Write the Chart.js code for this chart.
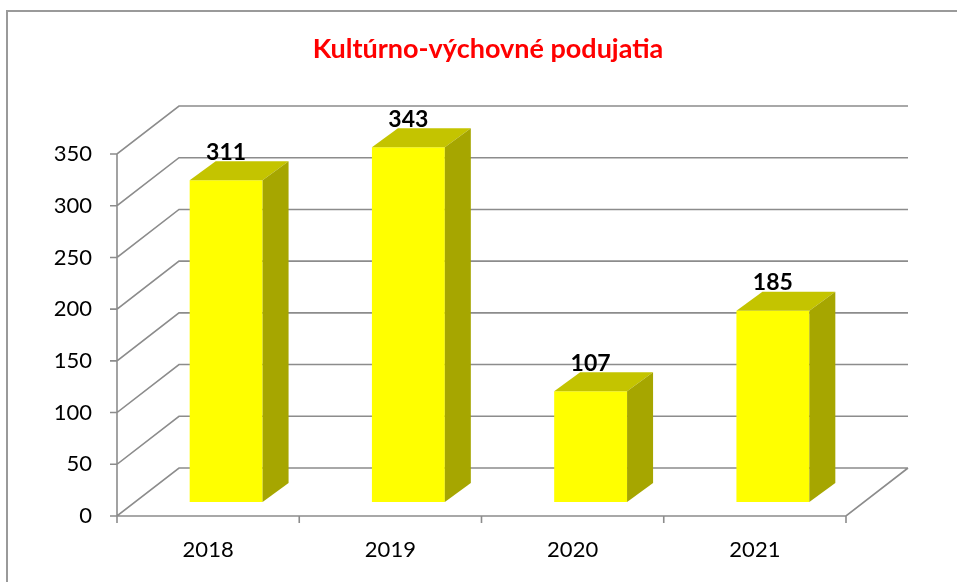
<!DOCTYPE html>
<html>
<head>
<meta charset="utf-8">
<script src="https://cdn.jsdelivr.net/npm/chart.js@4.4.0/dist/chart.umd.min.js"></script>
<style>
html, body { margin: 0; padding: 0; background: #fff; }
#wrap { position: relative; width: 957px; height: 582px; }
</style>
</head>
<body>
<div id="wrap"><canvas id="myChart" width="957" height="582"></canvas></div>
<script>
// data
var years = ['2018', '2019', '2020', '2021'];
var podujatia = [311, 343, 107, 185];
var yMin = 0;
var yMax = 350;
var yStep = 50;
var chartTitle = 'Kultúrno-výchovné podujatia';

// 3d look
var wallDx = 62, wallDy = -48;     // back wall offset
var barDx = 18, barDy = -14;       // bars sit a bit inside the box
var depthDx = 26, depthDy = -19;   // bar depth
var lineColor = '#8c8c8c';

var fake3d = {
    id: 'fake3d',
    beforeDatasetsDraw: function(chart) {
        var ctx = chart.ctx;
        var area = chart.chartArea;
        var ys = chart.scales.y;

        ctx.save();
        // outer frame
        ctx.strokeStyle = '#9a9a9a';
        ctx.lineWidth = 2;
        ctx.strokeRect(7, 11, 970, 600);

        // title (centred over the whole box, not the plot area)
        ctx.fillStyle = '#ff0000';
        ctx.font = 'bold 27px Lato';
        ctx.textAlign = 'center';
        ctx.textBaseline = 'alphabetic';
        ctx.fillText(chartTitle, 488, 58);

        ctx.strokeStyle = lineColor;
        ctx.lineWidth = 1.6;
        ctx.beginPath();
        ys.ticks.forEach(function(t) {
            var y = ys.getPixelForValue(t.value);
            ctx.moveTo(area.left - 7, y);
            ctx.lineTo(area.left, y);
            ctx.lineTo(area.left + wallDx, y + wallDy);
            ctx.lineTo(area.right + wallDx, y + wallDy);
        });
        // left axis
        ctx.moveTo(area.left, area.top);
        ctx.lineTo(area.left, area.bottom);
        // floor front edge + right edge
        ctx.moveTo(area.left, area.bottom);
        ctx.lineTo(area.right, area.bottom);
        ctx.lineTo(area.right + wallDx, area.bottom + wallDy);
        // category ticks
        var cw = (area.right - area.left) / years.length;
        for (var i = 0; i <= years.length; i++) {
            var x = area.left + i * cw;
            ctx.moveTo(x, area.bottom);
            ctx.lineTo(x, area.bottom + 7);
        }
        ctx.stroke();
        ctx.restore();

        // shift bars into the box
        ctx.save();
        ctx.translate(barDx, barDy);
    },
    afterDatasetsDraw: function(chart) {
        var ctx = chart.ctx;
        ctx.restore();

        var meta = chart.getDatasetMeta(0);
        ctx.save();
        meta.data.forEach(function(bar, i) {
            var w = bar.width;
            var l = bar.x - w / 2 + barDx;
            var r = bar.x + w / 2 + barDx;
            var t = bar.y + barDy;
            var b = bar.base + barDy;

            // top face
            ctx.fillStyle = '#c4c400';
            ctx.beginPath();
            ctx.moveTo(l, t);
            ctx.lineTo(r, t);
            ctx.lineTo(r + depthDx, t + depthDy);
            ctx.lineTo(l + depthDx, t + depthDy);
            ctx.closePath();
            ctx.fill();

            // side face
            ctx.fillStyle = '#a6a600';
            ctx.beginPath();
            ctx.moveTo(r, t);
            ctx.lineTo(r + depthDx, t + depthDy);
            ctx.lineTo(r + depthDx, b + depthDy);
            ctx.lineTo(r, b);
            ctx.closePath();
            ctx.fill();

            // value label
            ctx.fillStyle = '#000';
            ctx.font = 'bold 23px Lato';
            ctx.textAlign = 'center';
            ctx.textBaseline = 'middle';
            ctx.fillText(String(podujatia[i]), bar.x + barDx, t - 28);
        });
        ctx.restore();
    }
};

var ctx = document.getElementById('myChart');

var myChart = new Chart(ctx, {
    type: 'bar',
    data: {
        labels: years,
        datasets: [{
            data: podujatia,
            backgroundColor: '#ffff00',
            borderWidth: 0,
            barPercentage: 0.4,
            categoryPercentage: 1.0
        }]
    },
    options: {
        responsive: false,
        animation: false,
        layout: { padding: { left: 0, right: 111, top: 154, bottom: 0 } },
        plugins: {
            legend: { display: false },
            tooltip: { enabled: false },
            title: { display: false }
        },
        scales: {
            x: {
                grid: { display: false, drawTicks: false },
                border: { display: false },
                ticks: { color: '#000', font: { family: 'Lato', size: 22 }, padding: 21 },
                afterFit: function(s) { s.height = 66; }
            },
            y: {
                min: yMin,
                max: yMax,
                grid: { display: false, drawTicks: false },
                border: { display: false },
                ticks: { stepSize: yStep, color: '#000', font: { family: 'Lato', size: 22 }, padding: 25 },
                afterFit: function(s) { s.width = 117; }
            }
        }
    },
    plugins: [fake3d]
});
</script>
</body>
</html>
